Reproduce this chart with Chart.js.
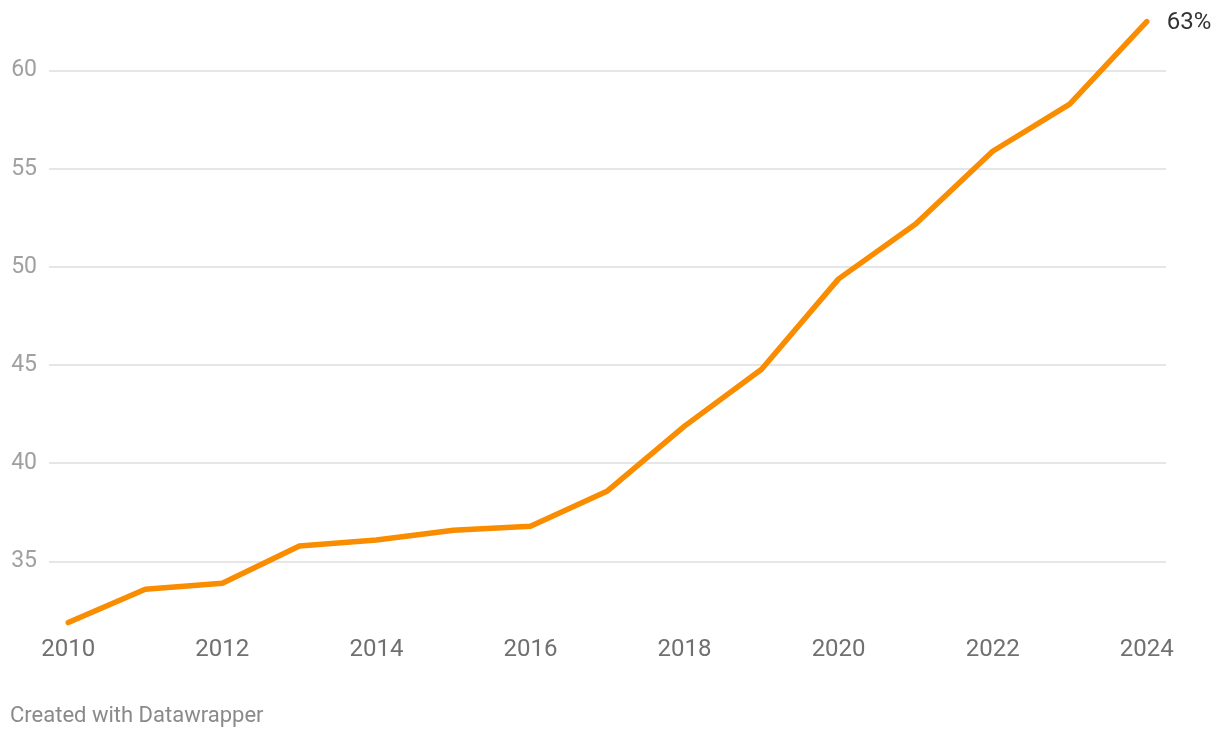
<!DOCTYPE html>
<html>
<head>
<meta charset="utf-8">
<script src="https://cdn.jsdelivr.net/npm/chart.js@4"></script>
<style>
  html, body { margin: 0; padding: 0; background: #fff; }
  #wrap { position: relative; width: 1220px; height: 738px; }
  #footer {
    position: absolute; left: 10px; top: 702px;
    font-family: Roboto, sans-serif; font-size: 22px; color: #8a8a8a;
  }
</style>
</head>
<body>
<div id="wrap">
  <canvas id="chart" width="1220" height="738"></canvas>
  <div id="footer">Created with Datawrapper</div>
</div>
<script>
// Data
const years = [2010, 2011, 2012, 2013, 2014, 2015, 2016, 2017, 2018, 2019, 2020, 2021, 2022, 2023, 2024];
const shares = [31.9, 33.6, 33.9, 35.8, 36.1, 36.6, 36.8, 38.6, 41.9, 44.8, 49.4, 52.2, 55.9, 58.3, 62.5];
const xTicks = [2010, 2012, 2014, 2016, 2018, 2020, 2022, 2024];
const yTicks = [35, 40, 45, 50, 55, 60];
const endLabel = '63%';

const lineColor = '#fa8c00';

// Draws the value label next to the last point
const endLabelPlugin = {
    id: 'endLabel',
    afterDatasetsDraw(chart) {
        const meta = chart.getDatasetMeta(0);
        const last = meta.data[meta.data.length - 1];
        const ctx = chart.ctx;
        ctx.save();
        ctx.font = '24px Roboto, sans-serif';
        ctx.fillStyle = '#333333';
        ctx.textAlign = 'left';
        ctx.textBaseline = 'middle';
        ctx.fillText(endLabel, last.x + 20, last.y + 1);
        ctx.restore();
    }
};

new Chart(document.getElementById('chart').getContext('2d'), {
    type: 'line',
    data: {
        datasets: [{
            data: years.map((y, i) => ({ x: y, y: shares[i] })),
            borderColor: lineColor,
            borderWidth: 5.5,
            borderCapStyle: 'round',
            borderJoinStyle: 'round',
            pointRadius: 0,
            tension: 0,
            fill: false,
        }]
    },
    options: {
        responsive: false,
        animation: false,
        layout: { padding: { top: 12, right: 54, left: 0, bottom: 0 } },
        plugins: {
            legend: { display: false },
            tooltip: { enabled: false }
        },
        scales: {
            x: {
                type: 'linear',
                min: 2009.75,
                max: 2024.25,
                afterBuildTicks: (axis) => { axis.ticks = xTicks.map(v => ({ value: v })); },
                afterFit: (axis) => { axis.height = 108; axis.paddingLeft = 0; axis.paddingRight = 0; },
                grid: { display: false },
                border: { display: false },
                ticks: {
                    color: '#707070',
                    font: { family: 'Roboto', size: 24 },
                    padding: -2,
                    maxRotation: 0,
                    callback: (v) => String(v)
                }
            },
            y: {
                min: 31.52,
                max: 62.99,
                afterBuildTicks: (axis) => { axis.ticks = yTicks.map(v => ({ value: v })); },
                afterFit: (axis) => { axis.width = 49; axis.paddingTop = 0; axis.paddingBottom = 0; },
                grid: { color: '#e6e6e6', lineWidth: 2, drawTicks: false },
                border: { display: false },
                ticks: {
                    color: '#a0a0a0',
                    font: { family: 'Roboto', size: 23 },
                    padding: 12,
                    callback: (v) => String(v)
                }
            }
        }
    },
    plugins: [endLabelPlugin]
});
</script>
</body>
</html>
